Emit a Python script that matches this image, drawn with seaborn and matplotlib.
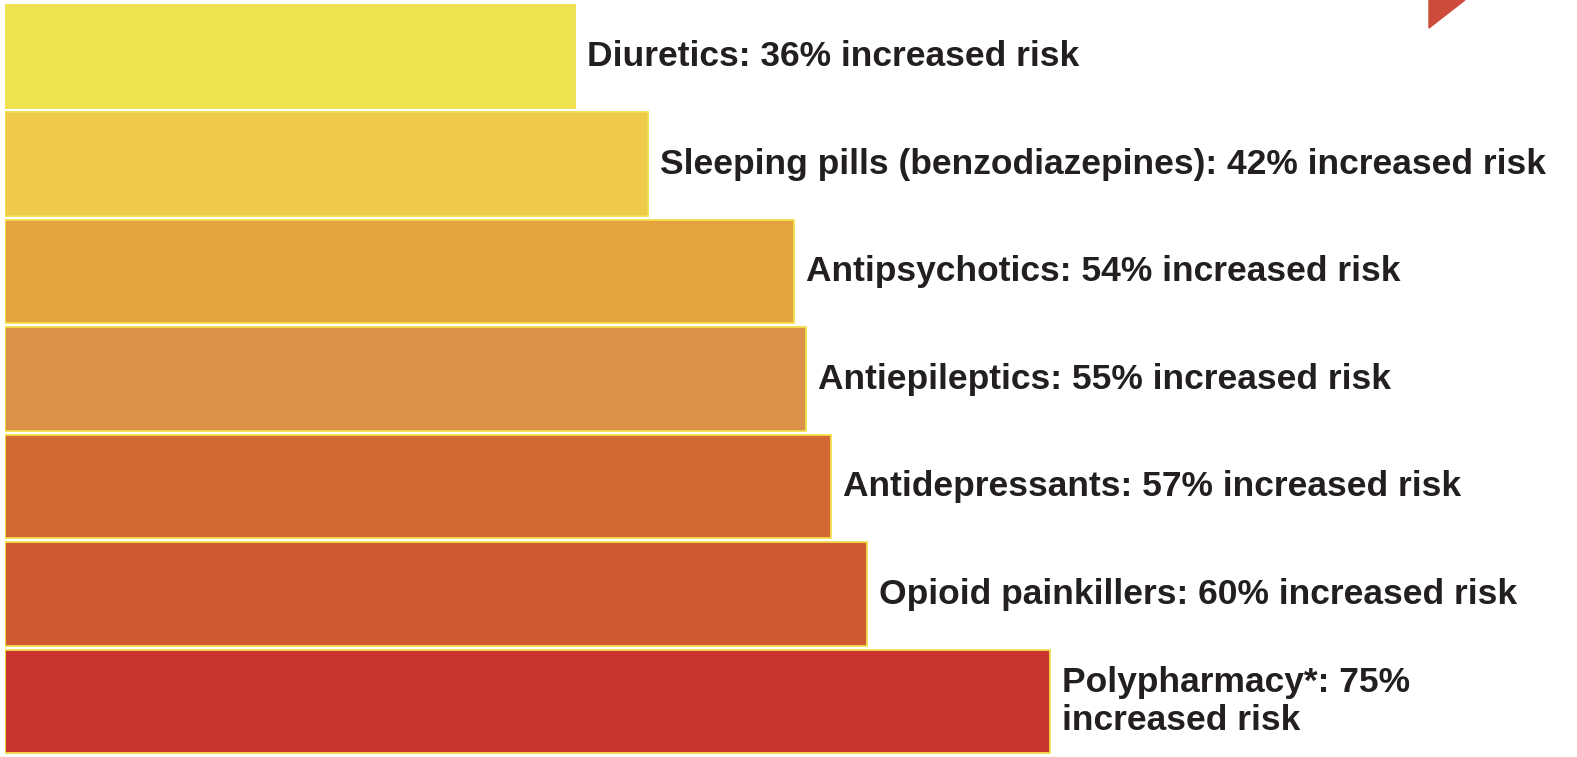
import pandas as pd
import matplotlib.pyplot as plt
import seaborn as sns
from matplotlib.patches import Polygon

drugs = ["Diuretics", "Sleeping pills (benzodiazepines)", "Antipsychotics",
         "Antiepileptics", "Antidepressants", "Opioid painkillers", "Polypharmacy*"]
risk = [36, 42, 54, 55, 57, 60, 75]
colors = ["#EDE34E", "#EFC94A", "#E5A33F", "#DC9148", "#D36832", "#D05B31", "#C9342E"]
labels = ["Diuretics: 36% increased risk",
          "Sleeping pills (benzodiazepines): 42% increased risk",
          "Antipsychotics: 54% increased risk",
          "Antiepileptics: 55% increased risk",
          "Antidepressants: 57% increased risk",
          "Opioid painkillers: 60% increased risk",
          "Polypharmacy*: 75%\nincreased risk"]
base = -10.8  # bars don't start at zero in the original

df = pd.DataFrame({"drug": drugs, "risk": risk})

sns.set_style("white")
plt.rcParams['font.family'] = ['Liberation Sans', 'DejaVu Sans']

fig = plt.figure(figsize=(15.77, 7.57), dpi=100)
ax = fig.add_axes([5 / 1577, 1.75 / 757, 1572 / 1577, 752.5 / 757])

sns.barplot(data=df, y="drug", x="risk", hue="drug", palette=colors,
            legend=False, width=0.96, edgecolor="#F1DE4C", linewidth=1.3,
            saturation=1, ax=ax)

# stretch bars back to the baseline
for p in ax.patches:
    w = p.get_x() + p.get_width()
    p.set_x(base)
    p.set_width(w - base)

for i, (v, lab) in enumerate(zip(risk, labels)):
    ax.annotate(lab, xy=(v, i), xytext=(12, 0), textcoords="offset pixels",
                va="center", ha="left", fontsize=25.5, fontweight="bold",
                color="#231F20", linespacing=1.2)

ax.set_xlim(base, 118.3)
ax.set_ylim(6.5, -0.5)
ax.axis("off")

# little red corner triangle top right
fig.patches.append(Polygon([[1429 / 1577, 1], [1465 / 1577, 1], [1429 / 1577, 1 - 28 / 757]],
                           closed=True, transform=fig.transFigure, color="#CD4B3A"))

fig.savefig("out.png", dpi=100)
